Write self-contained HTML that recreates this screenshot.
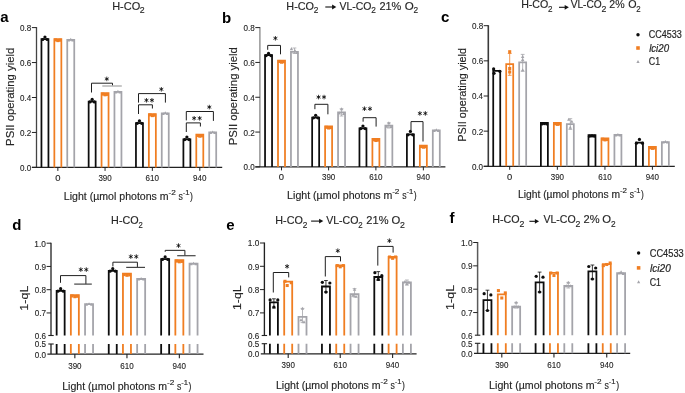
<!DOCTYPE html>
<html><head><meta charset="utf-8"><style>
html,body{margin:0;padding:0;background:#fff;}
svg{display:block;will-change:transform;font-family:"Liberation Sans", sans-serif;}
</style></head><body>
<svg width="685" height="393" viewBox="0 0 685 393">
<rect width="685" height="393" fill="#fff"/>
<line x1="36.50" y1="27.10" x2="36.50" y2="167.40" stroke="#444" stroke-width="1.3" />
<line x1="31.90" y1="27.60" x2="36.50" y2="27.60" stroke="#222222" stroke-width="1.0" />
<text x="20.08" y="31.05" font-size="8.6" fill="#262626" font-weight="normal" font-style="normal" textLength="11.27" lengthAdjust="spacingAndGlyphs" stroke="#262626" stroke-width="0.12" >0.8</text>
<line x1="31.90" y1="62.55" x2="36.50" y2="62.55" stroke="#222222" stroke-width="1.0" />
<text x="20.08" y="66.00" font-size="8.6" fill="#262626" font-weight="normal" font-style="normal" textLength="11.27" lengthAdjust="spacingAndGlyphs" stroke="#262626" stroke-width="0.12" >0.6</text>
<line x1="31.90" y1="97.50" x2="36.50" y2="97.50" stroke="#222222" stroke-width="1.0" />
<text x="20.09" y="100.95" font-size="8.6" fill="#262626" font-weight="normal" font-style="normal" textLength="11.15" lengthAdjust="spacingAndGlyphs" stroke="#262626" stroke-width="0.12" >0.4</text>
<line x1="31.90" y1="132.45" x2="36.50" y2="132.45" stroke="#222222" stroke-width="1.0" />
<text x="20.08" y="135.90" font-size="8.6" fill="#262626" font-weight="normal" font-style="normal" textLength="11.33" lengthAdjust="spacingAndGlyphs" stroke="#262626" stroke-width="0.12" >0.2</text>
<line x1="31.90" y1="167.40" x2="36.50" y2="167.40" stroke="#222222" stroke-width="1.0" />
<text x="20.08" y="170.85" font-size="8.6" fill="#262626" font-weight="normal" font-style="normal" textLength="11.23" lengthAdjust="spacingAndGlyphs" stroke="#262626" stroke-width="0.12" >0.0</text>
<line x1="31.90" y1="167.40" x2="222.20" y2="167.40" stroke="#222222" stroke-width="1.35" />
<line x1="57.85" y1="167.40" x2="57.85" y2="170.90" stroke="#222222" stroke-width="1.0" />
<text x="55.23" y="180.70" font-size="8.3" fill="#262626" font-weight="normal" font-style="normal" textLength="5.24" lengthAdjust="spacingAndGlyphs" stroke="#262626" stroke-width="0.12" >0</text>
<line x1="105.05" y1="167.40" x2="105.05" y2="170.90" stroke="#222222" stroke-width="1.0" />
<text x="98.40" y="180.70" font-size="8.3" fill="#262626" font-weight="normal" font-style="normal" textLength="13.32" lengthAdjust="spacingAndGlyphs" stroke="#262626" stroke-width="0.12" >390</text>
<line x1="152.35" y1="167.40" x2="152.35" y2="170.90" stroke="#222222" stroke-width="1.0" />
<text x="145.59" y="180.70" font-size="8.3" fill="#262626" font-weight="normal" font-style="normal" textLength="13.43" lengthAdjust="spacingAndGlyphs" stroke="#262626" stroke-width="0.12" >610</text>
<line x1="199.80" y1="167.40" x2="199.80" y2="170.90" stroke="#222222" stroke-width="1.0" />
<text x="193.07" y="180.70" font-size="8.3" fill="#262626" font-weight="normal" font-style="normal" textLength="13.39" lengthAdjust="spacingAndGlyphs" stroke="#262626" stroke-width="0.12" >940</text>
<path d="M41.45,167.40 V39.20 H48.45 V167.40" fill="none" stroke="#0d0d0d" stroke-width="1.75"/>
<circle cx="42.75" cy="39.50" r="1.62" fill="#0d0d0d"/>
<circle cx="47.15" cy="39.50" r="1.62" fill="#0d0d0d"/>
<circle cx="44.95" cy="37.00" r="1.62" fill="#0d0d0d"/>
<path d="M54.35,167.40 V39.00 H61.35 V167.40" fill="none" stroke="#F07E22" stroke-width="1.75"/>
<rect x="54.12" y="38.37" width="3.06" height="3.06" fill="#F07E22"/>
<rect x="58.52" y="38.67" width="3.06" height="3.06" fill="#F07E22"/>
<rect x="56.32" y="39.07" width="3.06" height="3.06" fill="#F07E22"/>
<path d="M67.25,167.40 V39.80 H74.25 V167.40" fill="none" stroke="#A4A4AA" stroke-width="1.75"/>
<path d="M68.75,38.68 L70.27,41.42 L67.23,41.42 Z" fill="#A4A4AA"/>
<path d="M72.75,38.68 L74.27,41.42 L71.23,41.42 Z" fill="#A4A4AA"/>
<path d="M70.75,37.78 L72.27,40.52 L69.23,40.52 Z" fill="#A4A4AA"/>
<path d="M88.65,167.40 V101.60 H95.65 V167.40" fill="none" stroke="#0d0d0d" stroke-width="1.75"/>
<circle cx="89.95" cy="101.90" r="1.62" fill="#0d0d0d"/>
<circle cx="94.35" cy="101.90" r="1.62" fill="#0d0d0d"/>
<circle cx="92.15" cy="99.40" r="1.62" fill="#0d0d0d"/>
<path d="M101.55,167.40 V93.20 H108.55 V167.40" fill="none" stroke="#F07E22" stroke-width="1.75"/>
<rect x="101.32" y="92.57" width="3.06" height="3.06" fill="#F07E22"/>
<rect x="105.72" y="92.87" width="3.06" height="3.06" fill="#F07E22"/>
<rect x="103.52" y="93.27" width="3.06" height="3.06" fill="#F07E22"/>
<path d="M114.45,167.40 V91.80 H121.45 V167.40" fill="none" stroke="#A4A4AA" stroke-width="1.75"/>
<path d="M115.95,90.68 L117.47,93.42 L114.43,93.42 Z" fill="#A4A4AA"/>
<path d="M119.95,90.68 L121.47,93.42 L118.43,93.42 Z" fill="#A4A4AA"/>
<path d="M117.95,89.78 L119.47,92.52 L116.43,92.52 Z" fill="#A4A4AA"/>
<path d="M135.95,167.40 V123.00 H142.95 V167.40" fill="none" stroke="#0d0d0d" stroke-width="1.75"/>
<circle cx="137.25" cy="123.30" r="1.62" fill="#0d0d0d"/>
<circle cx="141.65" cy="123.30" r="1.62" fill="#0d0d0d"/>
<circle cx="139.45" cy="120.80" r="1.62" fill="#0d0d0d"/>
<path d="M148.85,167.40 V114.00 H155.85 V167.40" fill="none" stroke="#F07E22" stroke-width="1.75"/>
<rect x="148.62" y="113.37" width="3.06" height="3.06" fill="#F07E22"/>
<rect x="153.02" y="113.67" width="3.06" height="3.06" fill="#F07E22"/>
<rect x="150.82" y="114.07" width="3.06" height="3.06" fill="#F07E22"/>
<path d="M161.75,167.40 V113.30 H168.75 V167.40" fill="none" stroke="#A4A4AA" stroke-width="1.75"/>
<path d="M163.25,112.18 L164.77,114.92 L161.73,114.92 Z" fill="#A4A4AA"/>
<path d="M167.25,112.18 L168.77,114.92 L165.73,114.92 Z" fill="#A4A4AA"/>
<path d="M165.25,111.28 L166.77,114.02 L163.73,114.02 Z" fill="#A4A4AA"/>
<path d="M183.40,167.40 V139.30 H190.40 V167.40" fill="none" stroke="#0d0d0d" stroke-width="1.75"/>
<circle cx="184.70" cy="139.60" r="1.62" fill="#0d0d0d"/>
<circle cx="189.10" cy="139.60" r="1.62" fill="#0d0d0d"/>
<circle cx="186.90" cy="137.10" r="1.62" fill="#0d0d0d"/>
<path d="M196.30,167.40 V134.60 H203.30 V167.40" fill="none" stroke="#F07E22" stroke-width="1.75"/>
<rect x="196.07" y="133.97" width="3.06" height="3.06" fill="#F07E22"/>
<rect x="200.47" y="134.27" width="3.06" height="3.06" fill="#F07E22"/>
<rect x="198.27" y="134.67" width="3.06" height="3.06" fill="#F07E22"/>
<path d="M209.20,167.40 V132.40 H216.20 V167.40" fill="none" stroke="#A4A4AA" stroke-width="1.75"/>
<path d="M210.70,131.28 L212.22,134.02 L209.18,134.02 Z" fill="#A4A4AA"/>
<path d="M214.70,131.28 L216.22,134.02 L213.18,134.02 Z" fill="#A4A4AA"/>
<path d="M212.70,130.38 L214.22,133.12 L211.18,133.12 Z" fill="#A4A4AA"/>
<text x="0.30" y="22.00" font-size="15" font-weight="bold" fill="#000">a</text>
<text x="112.20" y="9.90" font-size="11.0" fill="#262626" font-weight="normal" font-style="normal" textLength="28.03" lengthAdjust="spacingAndGlyphs" stroke="#262626" stroke-width="0.15" >H-CO</text>
<text x="139.86" y="13.20" font-size="9.2" fill="#262626" font-weight="normal" font-style="normal" textLength="4.88" lengthAdjust="spacingAndGlyphs" stroke="#262626" stroke-width="0.15" >2</text>
<text x="63.83" y="199.80" font-size="10.4" fill="#262626" font-weight="normal" font-style="normal" textLength="104.77" lengthAdjust="spacingAndGlyphs" stroke="#262626" stroke-width="0.15" >Light (µmol photons m</text>
<text x="168.44" y="194.60" font-size="7.0" fill="#262626" font-weight="normal" font-style="normal" textLength="7.27" lengthAdjust="spacingAndGlyphs" stroke="#262626" stroke-width="0.15" >-2</text>
<text x="178.46" y="199.80" font-size="10.4" fill="#262626" font-weight="normal" font-style="normal" textLength="4.36" lengthAdjust="spacingAndGlyphs" stroke="#262626" stroke-width="0.15" >s</text>
<text x="182.76" y="194.60" font-size="7.0" fill="#262626" font-weight="normal" font-style="normal" textLength="6.81" lengthAdjust="spacingAndGlyphs" stroke="#262626" stroke-width="0.15" >-1</text>
<text x="190.05" y="199.80" font-size="10.4" fill="#262626" font-weight="normal" font-style="normal" textLength="2.89" lengthAdjust="spacingAndGlyphs" stroke="#262626" stroke-width="0.15" >)</text>
<text transform="translate(13.60,0) rotate(-90)" x="-145.93" y="0.00" font-size="11.2" fill="#262626" font-weight="normal" font-style="normal" textLength="98.25" lengthAdjust="spacingAndGlyphs" stroke="#262626" stroke-width="0.15" >PSII operating yield</text>
<path d="M91.50,92.50 V83.20 H112.50 V85.40" stroke="#1f1f1f" stroke-width="1.0" fill="none"/>
<line x1="102.30" y1="86.00" x2="121.80" y2="86.00" stroke="#999" stroke-width="1.1" />
<path d="M106.80,76.60 L106.80,81.20 M104.81,77.75 L108.79,80.05 M104.81,80.05 L108.79,77.75 " stroke="#1a1a1a" stroke-width="0.85" fill="none"/>
<circle cx="106.80" cy="78.90" r="0.75" fill="#111"/>
<path d="M138.50,114.00 V104.80 H152.40 V108.50" stroke="#1f1f1f" stroke-width="1.0" fill="none"/>
<path d="M146.45,98.00 L146.45,102.60 M144.46,99.15 L148.44,101.45 M144.46,101.45 L148.44,99.15 " stroke="#1a1a1a" stroke-width="0.85" fill="none"/>
<circle cx="146.45" cy="100.30" r="0.75" fill="#111"/>
<path d="M151.95,98.00 L151.95,102.60 M149.96,99.15 L153.94,101.45 M149.96,101.45 L153.94,99.15 " stroke="#1a1a1a" stroke-width="0.85" fill="none"/>
<circle cx="151.95" cy="100.30" r="0.75" fill="#111"/>
<path d="M138.50,102.60 V93.60 H165.40 V102.60" stroke="#1f1f1f" stroke-width="1.0" fill="none"/>
<path d="M161.35,87.00 L161.35,91.60 M159.36,88.15 L163.34,90.45 M159.36,90.45 L163.34,88.15 " stroke="#1a1a1a" stroke-width="0.85" fill="none"/>
<circle cx="161.35" cy="89.30" r="0.75" fill="#111"/>
<path d="M186.30,132.00 V122.90 H200.40 V126.50" stroke="#1f1f1f" stroke-width="1.0" fill="none"/>
<path d="M194.15,116.00 L194.15,120.60 M192.16,117.15 L196.14,119.45 M192.16,119.45 L196.14,117.15 " stroke="#1a1a1a" stroke-width="0.85" fill="none"/>
<circle cx="194.15" cy="118.30" r="0.75" fill="#111"/>
<path d="M199.65,116.00 L199.65,120.60 M197.66,117.15 L201.64,119.45 M197.66,119.45 L201.64,117.15 " stroke="#1a1a1a" stroke-width="0.85" fill="none"/>
<circle cx="199.65" cy="118.30" r="0.75" fill="#111"/>
<path d="M186.30,120.40 V111.50 H213.40 V120.90" stroke="#1f1f1f" stroke-width="1.0" fill="none"/>
<path d="M209.30,104.80 L209.30,109.40 M207.31,105.95 L211.29,108.25 M207.31,108.25 L211.29,105.95 " stroke="#1a1a1a" stroke-width="0.85" fill="none"/>
<circle cx="209.30" cy="107.10" r="0.75" fill="#111"/>
<line x1="259.90" y1="27.10" x2="259.90" y2="166.90" stroke="#8a8a8a" stroke-width="1.35" />
<line x1="255.30" y1="27.60" x2="259.90" y2="27.60" stroke="#222222" stroke-width="1.0" />
<text x="243.48" y="31.05" font-size="8.6" fill="#262626" font-weight="normal" font-style="normal" textLength="11.27" lengthAdjust="spacingAndGlyphs" stroke="#262626" stroke-width="0.12" >0.8</text>
<line x1="255.30" y1="62.43" x2="259.90" y2="62.43" stroke="#222222" stroke-width="1.0" />
<text x="243.48" y="65.88" font-size="8.6" fill="#262626" font-weight="normal" font-style="normal" textLength="11.27" lengthAdjust="spacingAndGlyphs" stroke="#262626" stroke-width="0.12" >0.6</text>
<line x1="255.30" y1="97.25" x2="259.90" y2="97.25" stroke="#222222" stroke-width="1.0" />
<text x="243.49" y="100.70" font-size="8.6" fill="#262626" font-weight="normal" font-style="normal" textLength="11.15" lengthAdjust="spacingAndGlyphs" stroke="#262626" stroke-width="0.12" >0.4</text>
<line x1="255.30" y1="132.07" x2="259.90" y2="132.07" stroke="#222222" stroke-width="1.0" />
<text x="243.48" y="135.52" font-size="8.6" fill="#262626" font-weight="normal" font-style="normal" textLength="11.33" lengthAdjust="spacingAndGlyphs" stroke="#262626" stroke-width="0.12" >0.2</text>
<line x1="255.30" y1="166.90" x2="259.90" y2="166.90" stroke="#222222" stroke-width="1.0" />
<text x="243.48" y="170.35" font-size="8.6" fill="#262626" font-weight="normal" font-style="normal" textLength="11.23" lengthAdjust="spacingAndGlyphs" stroke="#262626" stroke-width="0.12" >0.0</text>
<line x1="255.30" y1="166.90" x2="445.40" y2="166.90" stroke="#222222" stroke-width="1.35" />
<line x1="281.50" y1="166.90" x2="281.50" y2="170.40" stroke="#222222" stroke-width="1.0" />
<text x="278.88" y="180.20" font-size="8.3" fill="#262626" font-weight="normal" font-style="normal" textLength="5.24" lengthAdjust="spacingAndGlyphs" stroke="#262626" stroke-width="0.12" >0</text>
<line x1="328.60" y1="166.90" x2="328.60" y2="170.40" stroke="#222222" stroke-width="1.0" />
<text x="321.95" y="180.20" font-size="8.3" fill="#262626" font-weight="normal" font-style="normal" textLength="13.32" lengthAdjust="spacingAndGlyphs" stroke="#262626" stroke-width="0.12" >390</text>
<line x1="375.90" y1="166.90" x2="375.90" y2="170.40" stroke="#222222" stroke-width="1.0" />
<text x="369.14" y="180.20" font-size="8.3" fill="#262626" font-weight="normal" font-style="normal" textLength="13.43" lengthAdjust="spacingAndGlyphs" stroke="#262626" stroke-width="0.12" >610</text>
<line x1="423.35" y1="166.90" x2="423.35" y2="170.40" stroke="#222222" stroke-width="1.0" />
<text x="416.62" y="180.20" font-size="8.3" fill="#262626" font-weight="normal" font-style="normal" textLength="13.39" lengthAdjust="spacingAndGlyphs" stroke="#262626" stroke-width="0.12" >940</text>
<path d="M265.05,166.90 V55.00 H272.05 V166.90" fill="none" stroke="#0d0d0d" stroke-width="1.75"/>
<circle cx="266.15" cy="55.60" r="1.62" fill="#0d0d0d"/>
<circle cx="270.95" cy="55.60" r="1.62" fill="#0d0d0d"/>
<circle cx="268.55" cy="53.40" r="1.62" fill="#0d0d0d"/>
<path d="M278.00,166.90 V60.60 H285.00 V166.90" fill="none" stroke="#F07E22" stroke-width="1.75"/>
<rect x="277.77" y="59.97" width="3.06" height="3.06" fill="#F07E22"/>
<rect x="282.17" y="60.27" width="3.06" height="3.06" fill="#F07E22"/>
<rect x="279.97" y="60.67" width="3.06" height="3.06" fill="#F07E22"/>
<path d="M290.95,166.90 V51.80 H297.95 V166.90" fill="none" stroke="#A4A4AA" stroke-width="1.75"/>
<path d="M294.45,48.00 V53.50 M292.55,48.00 H296.35 M292.55,53.50 H296.35" stroke="#A4A4AA" stroke-width="0.8" fill="none"/>
<path d="M291.45,47.09 L293.16,50.17 L289.74,50.17 Z" fill="#A4A4AA"/>
<path d="M294.95,48.89 L296.66,51.97 L293.24,51.97 Z" fill="#A4A4AA"/>
<path d="M297.05,50.89 L298.76,53.97 L295.34,53.97 Z" fill="#A4A4AA"/>
<path d="M312.15,166.90 V117.50 H319.15 V166.90" fill="none" stroke="#0d0d0d" stroke-width="1.75"/>
<circle cx="313.45" cy="117.80" r="1.62" fill="#0d0d0d"/>
<circle cx="317.85" cy="117.80" r="1.62" fill="#0d0d0d"/>
<circle cx="315.65" cy="115.30" r="1.62" fill="#0d0d0d"/>
<path d="M325.10,166.90 V126.40 H332.10 V166.90" fill="none" stroke="#F07E22" stroke-width="1.75"/>
<rect x="324.87" y="125.77" width="3.06" height="3.06" fill="#F07E22"/>
<rect x="329.27" y="126.07" width="3.06" height="3.06" fill="#F07E22"/>
<rect x="327.07" y="126.47" width="3.06" height="3.06" fill="#F07E22"/>
<path d="M338.05,166.90 V112.40 H345.05 V166.90" fill="none" stroke="#A4A4AA" stroke-width="1.75"/>
<path d="M341.55,108.80 V116.00 M339.65,108.80 H343.45 M339.65,116.00 H343.45" stroke="#A4A4AA" stroke-width="0.8" fill="none"/>
<path d="M341.55,107.29 L343.26,110.37 L339.84,110.37 Z" fill="#A4A4AA"/>
<path d="M339.35,111.49 L341.06,114.57 L337.64,114.57 Z" fill="#A4A4AA"/>
<path d="M343.75,111.89 L345.46,114.97 L342.04,114.97 Z" fill="#A4A4AA"/>
<path d="M359.45,166.90 V128.30 H366.45 V166.90" fill="none" stroke="#0d0d0d" stroke-width="1.75"/>
<circle cx="360.75" cy="128.60" r="1.62" fill="#0d0d0d"/>
<circle cx="365.15" cy="128.60" r="1.62" fill="#0d0d0d"/>
<circle cx="362.95" cy="126.10" r="1.62" fill="#0d0d0d"/>
<path d="M372.40,166.90 V138.90 H379.40 V166.90" fill="none" stroke="#F07E22" stroke-width="1.75"/>
<rect x="372.17" y="138.27" width="3.06" height="3.06" fill="#F07E22"/>
<rect x="376.57" y="138.57" width="3.06" height="3.06" fill="#F07E22"/>
<rect x="374.37" y="138.97" width="3.06" height="3.06" fill="#F07E22"/>
<path d="M385.35,166.90 V125.50 H392.35 V166.90" fill="none" stroke="#A4A4AA" stroke-width="1.75"/>
<path d="M388.85,122.80 V128.00 M386.95,122.80 H390.75 M386.95,128.00 H390.75" stroke="#A4A4AA" stroke-width="0.8" fill="none"/>
<path d="M388.85,121.19 L390.56,124.27 L387.14,124.27 Z" fill="#A4A4AA"/>
<path d="M386.65,124.69 L388.36,127.77 L384.94,127.77 Z" fill="#A4A4AA"/>
<path d="M391.05,124.89 L392.76,127.97 L389.34,127.97 Z" fill="#A4A4AA"/>
<path d="M406.90,166.90 V134.40 H413.90 V166.90" fill="none" stroke="#0d0d0d" stroke-width="1.75"/>
<circle cx="408.00" cy="134.80" r="1.62" fill="#0d0d0d"/>
<circle cx="412.80" cy="134.80" r="1.62" fill="#0d0d0d"/>
<circle cx="410.40" cy="131.40" r="1.62" fill="#0d0d0d"/>
<path d="M419.85,166.90 V145.60 H426.85 V166.90" fill="none" stroke="#F07E22" stroke-width="1.75"/>
<rect x="419.62" y="144.97" width="3.06" height="3.06" fill="#F07E22"/>
<rect x="424.02" y="145.27" width="3.06" height="3.06" fill="#F07E22"/>
<rect x="421.82" y="145.67" width="3.06" height="3.06" fill="#F07E22"/>
<path d="M432.80,166.90 V130.30 H439.80 V166.90" fill="none" stroke="#A4A4AA" stroke-width="1.75"/>
<path d="M434.30,129.18 L435.82,131.92 L432.78,131.92 Z" fill="#A4A4AA"/>
<path d="M438.30,129.18 L439.82,131.92 L436.78,131.92 Z" fill="#A4A4AA"/>
<path d="M436.30,128.28 L437.82,131.02 L434.78,131.02 Z" fill="#A4A4AA"/>
<text x="222.00" y="22.60" font-size="15" font-weight="bold" fill="#000">b</text>
<text x="286.31" y="9.90" font-size="11.0" fill="#262626" font-weight="normal" font-style="normal" textLength="27.71" lengthAdjust="spacingAndGlyphs" stroke="#262626" stroke-width="0.15" >H-CO</text>
<text x="313.68" y="13.20" font-size="9.2" fill="#262626" font-weight="normal" font-style="normal" textLength="4.63" lengthAdjust="spacingAndGlyphs" stroke="#262626" stroke-width="0.15" >2</text>
<text x="339.45" y="9.90" font-size="11.0" fill="#262626" font-weight="normal" font-style="normal" textLength="32.06" lengthAdjust="spacingAndGlyphs" stroke="#262626" stroke-width="0.15" >VL-CO</text>
<text x="371.18" y="13.20" font-size="9.2" fill="#262626" font-weight="normal" font-style="normal" textLength="4.63" lengthAdjust="spacingAndGlyphs" stroke="#262626" stroke-width="0.15" >2</text>
<text x="379.45" y="9.90" font-size="11.0" fill="#262626" font-weight="normal" font-style="normal" textLength="21.94" lengthAdjust="spacingAndGlyphs" stroke="#262626" stroke-width="0.15" >21%</text>
<text x="404.86" y="9.90" font-size="11.0" fill="#262626" font-weight="normal" font-style="normal" textLength="9.00" lengthAdjust="spacingAndGlyphs" stroke="#262626" stroke-width="0.15" >O</text>
<text x="413.48" y="13.20" font-size="9.2" fill="#262626" font-weight="normal" font-style="normal" textLength="4.63" lengthAdjust="spacingAndGlyphs" stroke="#262626" stroke-width="0.15" >2</text>
<path d="M325.30,7.00 H333.30" stroke="#111" stroke-width="1.1"/>
<path d="M336.30,7.00 L332.10,4.60 L332.10,9.40 Z" fill="#111"/>
<text x="287.13" y="199.30" font-size="10.4" fill="#262626" font-weight="normal" font-style="normal" textLength="105.18" lengthAdjust="spacingAndGlyphs" stroke="#262626" stroke-width="0.15" >Light (µmol photons m</text>
<text x="392.15" y="194.10" font-size="7.0" fill="#262626" font-weight="normal" font-style="normal" textLength="7.30" lengthAdjust="spacingAndGlyphs" stroke="#262626" stroke-width="0.15" >-2</text>
<text x="402.20" y="199.30" font-size="10.4" fill="#262626" font-weight="normal" font-style="normal" textLength="4.37" lengthAdjust="spacingAndGlyphs" stroke="#262626" stroke-width="0.15" >s</text>
<text x="406.53" y="194.10" font-size="7.0" fill="#262626" font-weight="normal" font-style="normal" textLength="6.84" lengthAdjust="spacingAndGlyphs" stroke="#262626" stroke-width="0.15" >-1</text>
<text x="413.84" y="199.30" font-size="10.4" fill="#262626" font-weight="normal" font-style="normal" textLength="2.90" lengthAdjust="spacingAndGlyphs" stroke="#262626" stroke-width="0.15" >)</text>
<text transform="translate(236.90,0) rotate(-90)" x="-145.23" y="0.00" font-size="11.2" fill="#262626" font-weight="normal" font-style="normal" textLength="98.05" lengthAdjust="spacingAndGlyphs" stroke="#262626" stroke-width="0.15" >PSII operating yield</text>
<path d="M267.70,49.80 V45.40 H280.50 V54.30" stroke="#1f1f1f" stroke-width="1.0" fill="none"/>
<path d="M275.40,36.00 L275.40,40.60 M273.41,37.15 L277.39,39.45 M273.41,39.45 L277.39,37.15 " stroke="#1a1a1a" stroke-width="0.85" fill="none"/>
<circle cx="275.40" cy="38.30" r="0.75" fill="#111"/>
<path d="M314.90,109.20 V104.30 H327.90 V114.30" stroke="#1f1f1f" stroke-width="1.0" fill="none"/>
<path d="M318.55,94.80 L318.55,99.40 M316.56,95.95 L320.54,98.25 M316.56,98.25 L320.54,95.95 " stroke="#1a1a1a" stroke-width="0.85" fill="none"/>
<circle cx="318.55" cy="97.10" r="0.75" fill="#111"/>
<path d="M324.05,94.80 L324.05,99.40 M322.06,95.95 L326.04,98.25 M322.06,98.25 L326.04,95.95 " stroke="#1a1a1a" stroke-width="0.85" fill="none"/>
<circle cx="324.05" cy="97.10" r="0.75" fill="#111"/>
<path d="M363.10,121.70 V117.70 H376.10 V126.60" stroke="#1f1f1f" stroke-width="1.0" fill="none"/>
<path d="M364.45,106.40 L364.45,111.00 M362.46,107.55 L366.44,109.85 M362.46,109.85 L366.44,107.55 " stroke="#1a1a1a" stroke-width="0.85" fill="none"/>
<circle cx="364.45" cy="108.70" r="0.75" fill="#111"/>
<path d="M369.95,106.40 L369.95,111.00 M367.96,107.55 L371.94,109.85 M367.96,109.85 L371.94,107.55 " stroke="#1a1a1a" stroke-width="0.85" fill="none"/>
<circle cx="369.95" cy="108.70" r="0.75" fill="#111"/>
<path d="M411.00,130.00 V121.60 H423.00 V141.50" stroke="#1f1f1f" stroke-width="1.0" fill="none"/>
<path d="M419.85,111.10 L419.85,115.70 M417.86,112.25 L421.84,114.55 M417.86,114.55 L421.84,112.25 " stroke="#1a1a1a" stroke-width="0.85" fill="none"/>
<circle cx="419.85" cy="113.40" r="0.75" fill="#111"/>
<path d="M425.35,111.10 L425.35,115.70 M423.36,112.25 L427.34,114.55 M423.36,114.55 L427.34,112.25 " stroke="#1a1a1a" stroke-width="0.85" fill="none"/>
<circle cx="425.35" cy="113.40" r="0.75" fill="#111"/>
<line x1="488.30" y1="25.20" x2="488.30" y2="166.30" stroke="#3a3a3a" stroke-width="1.6" />
<line x1="483.70" y1="25.70" x2="488.30" y2="25.70" stroke="#222222" stroke-width="1.0" />
<text x="471.88" y="29.15" font-size="8.6" fill="#262626" font-weight="normal" font-style="normal" textLength="11.27" lengthAdjust="spacingAndGlyphs" stroke="#262626" stroke-width="0.12" >0.8</text>
<line x1="483.70" y1="60.85" x2="488.30" y2="60.85" stroke="#222222" stroke-width="1.0" />
<text x="471.88" y="64.30" font-size="8.6" fill="#262626" font-weight="normal" font-style="normal" textLength="11.27" lengthAdjust="spacingAndGlyphs" stroke="#262626" stroke-width="0.12" >0.6</text>
<line x1="483.70" y1="96.00" x2="488.30" y2="96.00" stroke="#222222" stroke-width="1.0" />
<text x="471.89" y="99.45" font-size="8.6" fill="#262626" font-weight="normal" font-style="normal" textLength="11.15" lengthAdjust="spacingAndGlyphs" stroke="#262626" stroke-width="0.12" >0.4</text>
<line x1="483.70" y1="131.15" x2="488.30" y2="131.15" stroke="#222222" stroke-width="1.0" />
<text x="471.88" y="134.60" font-size="8.6" fill="#262626" font-weight="normal" font-style="normal" textLength="11.33" lengthAdjust="spacingAndGlyphs" stroke="#262626" stroke-width="0.12" >0.2</text>
<line x1="483.70" y1="166.30" x2="488.30" y2="166.30" stroke="#222222" stroke-width="1.0" />
<text x="471.88" y="169.75" font-size="8.6" fill="#262626" font-weight="normal" font-style="normal" textLength="11.23" lengthAdjust="spacingAndGlyphs" stroke="#262626" stroke-width="0.12" >0.0</text>
<line x1="483.70" y1="166.30" x2="674.80" y2="166.30" stroke="#222222" stroke-width="1.35" />
<line x1="509.70" y1="166.30" x2="509.70" y2="169.80" stroke="#222222" stroke-width="1.0" />
<text x="507.08" y="179.60" font-size="8.3" fill="#262626" font-weight="normal" font-style="normal" textLength="5.24" lengthAdjust="spacingAndGlyphs" stroke="#262626" stroke-width="0.12" >0</text>
<line x1="557.35" y1="166.30" x2="557.35" y2="169.80" stroke="#222222" stroke-width="1.0" />
<text x="550.70" y="179.60" font-size="8.3" fill="#262626" font-weight="normal" font-style="normal" textLength="13.32" lengthAdjust="spacingAndGlyphs" stroke="#262626" stroke-width="0.12" >390</text>
<line x1="604.95" y1="166.30" x2="604.95" y2="169.80" stroke="#222222" stroke-width="1.0" />
<text x="598.19" y="179.60" font-size="8.3" fill="#262626" font-weight="normal" font-style="normal" textLength="13.43" lengthAdjust="spacingAndGlyphs" stroke="#262626" stroke-width="0.12" >610</text>
<line x1="652.40" y1="166.30" x2="652.40" y2="169.80" stroke="#222222" stroke-width="1.0" />
<text x="645.67" y="179.60" font-size="8.3" fill="#262626" font-weight="normal" font-style="normal" textLength="13.39" lengthAdjust="spacingAndGlyphs" stroke="#262626" stroke-width="0.12" >940</text>
<path d="M493.23,166.30 V70.80 H500.23 V166.30" fill="none" stroke="#0d0d0d" stroke-width="1.75"/>
<circle cx="493.63" cy="68.90" r="1.62" fill="#0d0d0d"/>
<circle cx="494.03" cy="73.30" r="1.62" fill="#0d0d0d"/>
<circle cx="499.83" cy="71.30" r="1.62" fill="#0d0d0d"/>
<path d="M506.20,166.30 V64.20 H513.20 V166.30" fill="none" stroke="#F07E22" stroke-width="1.75"/>
<path d="M509.70,53.50 V75.30 M507.80,53.50 H511.60 M507.80,75.30 H511.60" stroke="#F07E22" stroke-width="0.8" fill="none"/>
<rect x="508.17" y="50.17" width="3.06" height="3.06" fill="#F07E22"/>
<rect x="508.17" y="66.97" width="3.06" height="3.06" fill="#F07E22"/>
<rect x="508.17" y="70.47" width="3.06" height="3.06" fill="#F07E22"/>
<path d="M519.17,166.30 V62.40 H526.17 V166.30" fill="none" stroke="#A4A4AA" stroke-width="1.75"/>
<path d="M522.67,54.40 V71.30 M520.77,54.40 H524.57 M520.77,71.30 H524.57" stroke="#A4A4AA" stroke-width="0.8" fill="none"/>
<path d="M522.67,54.89 L524.38,57.97 L520.96,57.97 Z" fill="#A4A4AA"/>
<path d="M522.67,57.99 L524.38,61.07 L520.96,61.07 Z" fill="#A4A4AA"/>
<path d="M522.67,68.19 L524.38,71.27 L520.96,71.27 Z" fill="#A4A4AA"/>
<path d="M540.88,166.30 V122.80 H547.88 V166.30" fill="none" stroke="#0d0d0d" stroke-width="1.75"/>
<circle cx="541.98" cy="123.90" r="1.62" fill="#0d0d0d"/>
<circle cx="544.38" cy="123.60" r="1.62" fill="#0d0d0d"/>
<circle cx="546.78" cy="123.90" r="1.62" fill="#0d0d0d"/>
<path d="M553.85,166.30 V122.80 H560.85 V166.30" fill="none" stroke="#F07E22" stroke-width="1.75"/>
<rect x="553.62" y="122.17" width="3.06" height="3.06" fill="#F07E22"/>
<rect x="558.02" y="122.47" width="3.06" height="3.06" fill="#F07E22"/>
<rect x="555.82" y="122.87" width="3.06" height="3.06" fill="#F07E22"/>
<path d="M566.82,166.30 V124.00 H573.82 V166.30" fill="none" stroke="#A4A4AA" stroke-width="1.75"/>
<path d="M570.32,118.70 V129.40 M568.42,118.70 H572.22 M568.42,129.40 H572.22" stroke="#A4A4AA" stroke-width="0.8" fill="none"/>
<path d="M568.82,117.79 L570.53,120.87 L567.11,120.87 Z" fill="#A4A4AA"/>
<path d="M571.82,119.79 L573.53,122.87 L570.11,122.87 Z" fill="#A4A4AA"/>
<path d="M570.32,125.79 L572.03,128.87 L568.61,128.87 Z" fill="#A4A4AA"/>
<path d="M588.48,166.30 V135.10 H595.48 V166.30" fill="none" stroke="#0d0d0d" stroke-width="1.75"/>
<circle cx="589.58" cy="136.20" r="1.62" fill="#0d0d0d"/>
<circle cx="591.98" cy="135.90" r="1.62" fill="#0d0d0d"/>
<circle cx="594.38" cy="136.20" r="1.62" fill="#0d0d0d"/>
<path d="M601.45,166.30 V138.30 H608.45 V166.30" fill="none" stroke="#F07E22" stroke-width="1.75"/>
<rect x="601.22" y="137.67" width="3.06" height="3.06" fill="#F07E22"/>
<rect x="605.62" y="137.97" width="3.06" height="3.06" fill="#F07E22"/>
<rect x="603.42" y="138.37" width="3.06" height="3.06" fill="#F07E22"/>
<path d="M614.42,166.30 V134.90 H621.42 V166.30" fill="none" stroke="#A4A4AA" stroke-width="1.75"/>
<path d="M615.92,133.78 L617.44,136.52 L614.40,136.52 Z" fill="#A4A4AA"/>
<path d="M619.92,133.78 L621.44,136.52 L618.40,136.52 Z" fill="#A4A4AA"/>
<path d="M617.92,132.88 L619.44,135.62 L616.40,135.62 Z" fill="#A4A4AA"/>
<path d="M635.93,166.30 V142.70 H642.93 V166.30" fill="none" stroke="#0d0d0d" stroke-width="1.75"/>
<circle cx="639.43" cy="139.40" r="1.62" fill="#0d0d0d"/>
<circle cx="636.43" cy="143.20" r="1.62" fill="#0d0d0d"/>
<circle cx="642.43" cy="143.20" r="1.62" fill="#0d0d0d"/>
<path d="M648.90,166.30 V146.80 H655.90 V166.30" fill="none" stroke="#F07E22" stroke-width="1.75"/>
<rect x="648.67" y="146.17" width="3.06" height="3.06" fill="#F07E22"/>
<rect x="653.07" y="146.47" width="3.06" height="3.06" fill="#F07E22"/>
<rect x="650.87" y="146.87" width="3.06" height="3.06" fill="#F07E22"/>
<path d="M661.87,166.30 V142.00 H668.87 V166.30" fill="none" stroke="#A4A4AA" stroke-width="1.75"/>
<path d="M663.37,140.88 L664.89,143.62 L661.85,143.62 Z" fill="#A4A4AA"/>
<path d="M667.37,140.88 L668.89,143.62 L665.85,143.62 Z" fill="#A4A4AA"/>
<path d="M665.37,139.98 L666.89,142.72 L663.85,142.72 Z" fill="#A4A4AA"/>
<text x="441.00" y="22.00" font-size="15" font-weight="bold" fill="#000">c</text>
<text x="521.13" y="8.30" font-size="11.0" fill="#262626" font-weight="normal" font-style="normal" textLength="27.19" lengthAdjust="spacingAndGlyphs" stroke="#262626" stroke-width="0.15" >H-CO</text>
<text x="547.89" y="11.60" font-size="9.2" fill="#262626" font-weight="normal" font-style="normal" textLength="4.51" lengthAdjust="spacingAndGlyphs" stroke="#262626" stroke-width="0.15" >2</text>
<text x="570.65" y="8.30" font-size="11.0" fill="#262626" font-weight="normal" font-style="normal" textLength="31.14" lengthAdjust="spacingAndGlyphs" stroke="#262626" stroke-width="0.15" >VL-CO</text>
<text x="601.56" y="11.60" font-size="9.2" fill="#262626" font-weight="normal" font-style="normal" textLength="4.88" lengthAdjust="spacingAndGlyphs" stroke="#262626" stroke-width="0.15" >2</text>
<text x="609.37" y="8.30" font-size="11.0" fill="#262626" font-weight="normal" font-style="normal" textLength="15.30" lengthAdjust="spacingAndGlyphs" stroke="#262626" stroke-width="0.15" >2%</text>
<text x="628.20" y="8.30" font-size="11.0" fill="#262626" font-weight="normal" font-style="normal" textLength="8.31" lengthAdjust="spacingAndGlyphs" stroke="#262626" stroke-width="0.15" >O</text>
<text x="636.31" y="11.60" font-size="9.2" fill="#262626" font-weight="normal" font-style="normal" textLength="4.39" lengthAdjust="spacingAndGlyphs" stroke="#262626" stroke-width="0.15" >2</text>
<path d="M559.00,7.30 H565.90" stroke="#111" stroke-width="1.1"/>
<path d="M568.90,7.30 L564.70,4.90 L564.70,9.70 Z" fill="#111"/>
<text x="517.96" y="198.10" font-size="10.4" fill="#262626" font-weight="normal" font-style="normal" textLength="102.14" lengthAdjust="spacingAndGlyphs" stroke="#262626" stroke-width="0.15" >Light (µmol photons m</text>
<text x="619.94" y="192.90" font-size="7.0" fill="#262626" font-weight="normal" font-style="normal" textLength="7.09" lengthAdjust="spacingAndGlyphs" stroke="#262626" stroke-width="0.15" >-2</text>
<text x="629.71" y="198.10" font-size="10.4" fill="#262626" font-weight="normal" font-style="normal" textLength="4.25" lengthAdjust="spacingAndGlyphs" stroke="#262626" stroke-width="0.15" >s</text>
<text x="633.90" y="192.90" font-size="7.0" fill="#262626" font-weight="normal" font-style="normal" textLength="6.64" lengthAdjust="spacingAndGlyphs" stroke="#262626" stroke-width="0.15" >-1</text>
<text x="641.01" y="198.10" font-size="10.4" fill="#262626" font-weight="normal" font-style="normal" textLength="2.82" lengthAdjust="spacingAndGlyphs" stroke="#262626" stroke-width="0.15" >)</text>
<text transform="translate(465.90,0) rotate(-90)" x="-141.69" y="0.00" font-size="10.9" fill="#262626" font-weight="normal" font-style="normal" textLength="93.68" lengthAdjust="spacingAndGlyphs" stroke="#262626" stroke-width="0.15" >PSII operating yield</text>
<circle cx="638.00" cy="34.70" r="1.71" fill="#0d0d0d"/>
<rect x="636.22" y="46.22" width="3.57" height="3.57" fill="#F07E22"/>
<path d="M638.00,60.09 L639.62,62.99 L636.38,62.99 Z" fill="#A4A4AA"/>
<text x="648.84" y="38.10" font-size="10.0" fill="#262626" font-weight="normal" font-style="normal" textLength="33.06" lengthAdjust="spacingAndGlyphs" stroke="#262626" stroke-width="0.2" >CC4533</text>
<text x="649.14" y="51.50" font-size="10.0" fill="#262626" font-weight="normal" font-style="italic" textLength="19.93" lengthAdjust="spacingAndGlyphs" stroke="#262626" stroke-width="0.2" >lci20</text>
<text x="648.85" y="64.80" font-size="10.0" fill="#262626" font-weight="normal" font-style="normal" textLength="11.29" lengthAdjust="spacingAndGlyphs" stroke="#262626" stroke-width="0.2" >C1</text>
<line x1="51.00" y1="242.70" x2="51.00" y2="335.50" stroke="#4a4a4a" stroke-width="1.6" />
<line x1="51.00" y1="344.00" x2="51.00" y2="354.10" stroke="#4a4a4a" stroke-width="1.6" />
<line x1="46.60" y1="243.20" x2="51.00" y2="243.20" stroke="#222222" stroke-width="1.0" />
<text x="34.37" y="246.65" font-size="8.6" fill="#262626" font-weight="normal" font-style="normal" textLength="11.56" lengthAdjust="spacingAndGlyphs" stroke="#262626" stroke-width="0.12" >1.0</text>
<line x1="46.60" y1="266.45" x2="51.00" y2="266.45" stroke="#222222" stroke-width="1.0" />
<text x="34.68" y="269.90" font-size="8.6" fill="#262626" font-weight="normal" font-style="normal" textLength="11.30" lengthAdjust="spacingAndGlyphs" stroke="#262626" stroke-width="0.12" >0.9</text>
<line x1="46.60" y1="289.70" x2="51.00" y2="289.70" stroke="#222222" stroke-width="1.0" />
<text x="34.68" y="293.15" font-size="8.6" fill="#262626" font-weight="normal" font-style="normal" textLength="11.27" lengthAdjust="spacingAndGlyphs" stroke="#262626" stroke-width="0.12" >0.8</text>
<line x1="46.60" y1="312.95" x2="51.00" y2="312.95" stroke="#222222" stroke-width="1.0" />
<text x="34.68" y="316.40" font-size="8.6" fill="#262626" font-weight="normal" font-style="normal" textLength="11.33" lengthAdjust="spacingAndGlyphs" stroke="#262626" stroke-width="0.12" >0.7</text>
<text x="34.68" y="339.35" font-size="8.6" fill="#262626" font-weight="normal" font-style="normal" textLength="11.27" lengthAdjust="spacingAndGlyphs" stroke="#262626" stroke-width="0.12" >0.6</text>
<line x1="48.30" y1="335.50" x2="53.70" y2="335.50" stroke="#222222" stroke-width="1.1" />
<line x1="48.30" y1="344.00" x2="53.70" y2="344.00" stroke="#222222" stroke-width="1.1" />
<text x="34.68" y="347.45" font-size="8.6" fill="#262626" font-weight="normal" font-style="normal" textLength="11.26" lengthAdjust="spacingAndGlyphs" stroke="#262626" stroke-width="0.12" >0.5</text>
<text x="34.68" y="357.55" font-size="8.6" fill="#262626" font-weight="normal" font-style="normal" textLength="11.23" lengthAdjust="spacingAndGlyphs" stroke="#262626" stroke-width="0.12" >0.0</text>
<line x1="47.40" y1="354.10" x2="203.50" y2="354.10" stroke="#222222" stroke-width="1.35" />
<line x1="74.85" y1="354.10" x2="74.85" y2="358.30" stroke="#222222" stroke-width="1.1" />
<text x="68.20" y="368.70" font-size="8.3" fill="#262626" font-weight="normal" font-style="normal" textLength="13.32" lengthAdjust="spacingAndGlyphs" stroke="#262626" stroke-width="0.12" >390</text>
<line x1="126.95" y1="354.10" x2="126.95" y2="358.30" stroke="#222222" stroke-width="1.1" />
<text x="120.19" y="368.70" font-size="8.3" fill="#262626" font-weight="normal" font-style="normal" textLength="13.43" lengthAdjust="spacingAndGlyphs" stroke="#262626" stroke-width="0.12" >610</text>
<line x1="179.35" y1="354.10" x2="179.35" y2="358.30" stroke="#222222" stroke-width="1.1" />
<text x="172.62" y="368.70" font-size="8.3" fill="#262626" font-weight="normal" font-style="normal" textLength="13.39" lengthAdjust="spacingAndGlyphs" stroke="#262626" stroke-width="0.12" >940</text>
<path d="M56.65,354.10 V344.00 M56.65,335.50 V290.90 H64.65 V335.50 M64.65,344.00 V354.10" fill="none" stroke="#0d0d0d" stroke-width="1.8"/>
<circle cx="57.95" cy="291.20" r="1.62" fill="#0d0d0d"/>
<circle cx="63.35" cy="291.20" r="1.62" fill="#0d0d0d"/>
<circle cx="60.65" cy="288.70" r="1.62" fill="#0d0d0d"/>
<path d="M70.85,354.10 V344.00 M70.85,335.50 V295.10 H78.85 V335.50 M78.85,344.00 V354.10" fill="none" stroke="#F07E22" stroke-width="1.8"/>
<rect x="70.62" y="294.47" width="3.06" height="3.06" fill="#F07E22"/>
<rect x="76.02" y="294.77" width="3.06" height="3.06" fill="#F07E22"/>
<rect x="73.32" y="295.17" width="3.06" height="3.06" fill="#F07E22"/>
<path d="M85.05,354.10 V344.00 M85.05,335.50 V304.20 H93.05 V335.50 M93.05,344.00 V354.10" fill="none" stroke="#A4A4AA" stroke-width="1.8"/>
<path d="M86.55,303.08 L88.07,305.82 L85.03,305.82 Z" fill="#A4A4AA"/>
<path d="M91.55,303.08 L93.07,305.82 L90.03,305.82 Z" fill="#A4A4AA"/>
<path d="M89.05,302.18 L90.57,304.92 L87.53,304.92 Z" fill="#A4A4AA"/>
<path d="M108.75,354.10 V344.00 M108.75,335.50 V270.90 H116.75 V335.50 M116.75,344.00 V354.10" fill="none" stroke="#0d0d0d" stroke-width="1.8"/>
<circle cx="110.05" cy="271.20" r="1.62" fill="#0d0d0d"/>
<circle cx="115.45" cy="271.20" r="1.62" fill="#0d0d0d"/>
<circle cx="112.75" cy="268.70" r="1.62" fill="#0d0d0d"/>
<path d="M122.95,354.10 V344.00 M122.95,335.50 V273.70 H130.95 V335.50 M130.95,344.00 V354.10" fill="none" stroke="#F07E22" stroke-width="1.8"/>
<rect x="122.72" y="273.07" width="3.06" height="3.06" fill="#F07E22"/>
<rect x="128.12" y="273.37" width="3.06" height="3.06" fill="#F07E22"/>
<rect x="125.42" y="273.77" width="3.06" height="3.06" fill="#F07E22"/>
<path d="M137.15,354.10 V344.00 M137.15,335.50 V279.00 H145.15 V335.50 M145.15,344.00 V354.10" fill="none" stroke="#A4A4AA" stroke-width="1.8"/>
<path d="M138.65,277.88 L140.17,280.62 L137.13,280.62 Z" fill="#A4A4AA"/>
<path d="M143.65,277.88 L145.17,280.62 L142.13,280.62 Z" fill="#A4A4AA"/>
<path d="M141.15,276.98 L142.67,279.72 L139.63,279.72 Z" fill="#A4A4AA"/>
<path d="M161.15,354.10 V344.00 M161.15,335.50 V259.10 H169.15 V335.50 M169.15,344.00 V354.10" fill="none" stroke="#0d0d0d" stroke-width="1.8"/>
<circle cx="162.45" cy="259.40" r="1.62" fill="#0d0d0d"/>
<circle cx="167.85" cy="259.40" r="1.62" fill="#0d0d0d"/>
<circle cx="165.15" cy="256.90" r="1.62" fill="#0d0d0d"/>
<path d="M175.35,354.10 V344.00 M175.35,335.50 V260.20 H183.35 V335.50 M183.35,344.00 V354.10" fill="none" stroke="#F07E22" stroke-width="1.8"/>
<rect x="175.12" y="259.57" width="3.06" height="3.06" fill="#F07E22"/>
<rect x="180.52" y="259.87" width="3.06" height="3.06" fill="#F07E22"/>
<rect x="177.82" y="260.27" width="3.06" height="3.06" fill="#F07E22"/>
<path d="M189.55,354.10 V344.00 M189.55,335.50 V263.70 H197.55 V335.50 M197.55,344.00 V354.10" fill="none" stroke="#A4A4AA" stroke-width="1.8"/>
<path d="M191.05,262.58 L192.57,265.32 L189.53,265.32 Z" fill="#A4A4AA"/>
<path d="M196.05,262.58 L197.57,265.32 L194.53,265.32 Z" fill="#A4A4AA"/>
<path d="M193.55,261.68 L195.07,264.42 L192.03,264.42 Z" fill="#A4A4AA"/>
<text x="12.20" y="229.90" font-size="15" font-weight="bold" fill="#000">d</text>
<text x="111.12" y="224.30" font-size="11.0" fill="#262626" font-weight="normal" font-style="normal" textLength="27.50" lengthAdjust="spacingAndGlyphs" stroke="#262626" stroke-width="0.15" >H-CO</text>
<text x="138.57" y="227.80" font-size="9.2" fill="#262626" font-weight="normal" font-style="normal" textLength="4.27" lengthAdjust="spacingAndGlyphs" stroke="#262626" stroke-width="0.15" >2</text>
<text x="62.23" y="389.90" font-size="10.4" fill="#262626" font-weight="normal" font-style="normal" textLength="104.85" lengthAdjust="spacingAndGlyphs" stroke="#262626" stroke-width="0.15" >Light (µmol photons m</text>
<text x="166.92" y="384.70" font-size="7.0" fill="#262626" font-weight="normal" font-style="normal" textLength="7.28" lengthAdjust="spacingAndGlyphs" stroke="#262626" stroke-width="0.15" >-2</text>
<text x="176.95" y="389.90" font-size="10.4" fill="#262626" font-weight="normal" font-style="normal" textLength="4.36" lengthAdjust="spacingAndGlyphs" stroke="#262626" stroke-width="0.15" >s</text>
<text x="181.26" y="384.70" font-size="7.0" fill="#262626" font-weight="normal" font-style="normal" textLength="6.82" lengthAdjust="spacingAndGlyphs" stroke="#262626" stroke-width="0.15" >-1</text>
<text x="188.55" y="389.90" font-size="10.4" fill="#262626" font-weight="normal" font-style="normal" textLength="2.89" lengthAdjust="spacingAndGlyphs" stroke="#262626" stroke-width="0.15" >)</text>
<text transform="translate(27.80,0) rotate(-90)" x="-310.65" y="0.00" font-size="11.4" fill="#262626" font-weight="normal" font-style="normal" textLength="24.97" lengthAdjust="spacingAndGlyphs" stroke="#262626" stroke-width="0.15" >1-qL</text>
<path d="M60.50,282.80 V275.60 H85.90 V284.10" stroke="#1f1f1f" stroke-width="1.0" fill="none"/>
<line x1="74.20" y1="284.10" x2="91.80" y2="284.10" stroke="#444" stroke-width="1.2" />
<path d="M80.80,267.30 L80.80,271.90 M78.81,268.45 L82.79,270.75 M78.81,270.75 L82.79,268.45 " stroke="#1a1a1a" stroke-width="0.85" fill="none"/>
<circle cx="80.80" cy="269.60" r="0.75" fill="#111"/>
<path d="M86.30,267.30 L86.30,271.90 M84.31,268.45 L88.29,270.75 M84.31,270.75 L88.29,268.45 " stroke="#1a1a1a" stroke-width="0.85" fill="none"/>
<circle cx="86.30" cy="269.60" r="0.75" fill="#111"/>
<path d="M112.90,266.40 V262.20 H137.40 V267.40" stroke="#1f1f1f" stroke-width="1.0" fill="none"/>
<line x1="126.20" y1="267.40" x2="145.00" y2="267.40" stroke="#444" stroke-width="1.2" />
<path d="M130.80,254.30 L130.80,258.90 M128.81,255.45 L132.79,257.75 M128.81,257.75 L132.79,255.45 " stroke="#1a1a1a" stroke-width="0.85" fill="none"/>
<circle cx="130.80" cy="256.60" r="0.75" fill="#111"/>
<path d="M136.30,254.30 L136.30,258.90 M134.31,255.45 L138.29,257.75 M134.31,257.75 L138.29,255.45 " stroke="#1a1a1a" stroke-width="0.85" fill="none"/>
<circle cx="136.30" cy="256.60" r="0.75" fill="#111"/>
<path d="M165.20,251.80 V250.35 H184.90 V255.60" stroke="#1f1f1f" stroke-width="1.0" fill="none"/>
<line x1="177.20" y1="255.70" x2="195.60" y2="255.70" stroke="#444" stroke-width="1.2" />
<path d="M178.50,243.30 L178.50,247.90 M176.51,244.45 L180.49,246.75 M176.51,246.75 L180.49,244.45 " stroke="#1a1a1a" stroke-width="0.85" fill="none"/>
<circle cx="178.50" cy="245.60" r="0.75" fill="#111"/>
<line x1="264.40" y1="242.50" x2="264.40" y2="335.50" stroke="#222222" stroke-width="1.35" />
<line x1="264.40" y1="343.70" x2="264.40" y2="353.80" stroke="#222222" stroke-width="1.35" />
<line x1="260.00" y1="243.00" x2="264.40" y2="243.00" stroke="#222222" stroke-width="1.0" />
<text x="247.77" y="246.45" font-size="8.6" fill="#262626" font-weight="normal" font-style="normal" textLength="11.56" lengthAdjust="spacingAndGlyphs" stroke="#262626" stroke-width="0.12" >1.0</text>
<line x1="260.00" y1="266.30" x2="264.40" y2="266.30" stroke="#222222" stroke-width="1.0" />
<text x="248.08" y="269.75" font-size="8.6" fill="#262626" font-weight="normal" font-style="normal" textLength="11.30" lengthAdjust="spacingAndGlyphs" stroke="#262626" stroke-width="0.12" >0.9</text>
<line x1="260.00" y1="289.60" x2="264.40" y2="289.60" stroke="#222222" stroke-width="1.0" />
<text x="248.08" y="293.05" font-size="8.6" fill="#262626" font-weight="normal" font-style="normal" textLength="11.27" lengthAdjust="spacingAndGlyphs" stroke="#262626" stroke-width="0.12" >0.8</text>
<line x1="260.00" y1="312.90" x2="264.40" y2="312.90" stroke="#222222" stroke-width="1.0" />
<text x="248.08" y="316.35" font-size="8.6" fill="#262626" font-weight="normal" font-style="normal" textLength="11.33" lengthAdjust="spacingAndGlyphs" stroke="#262626" stroke-width="0.12" >0.7</text>
<text x="248.08" y="339.35" font-size="8.6" fill="#262626" font-weight="normal" font-style="normal" textLength="11.27" lengthAdjust="spacingAndGlyphs" stroke="#262626" stroke-width="0.12" >0.6</text>
<line x1="261.70" y1="335.50" x2="267.10" y2="335.50" stroke="#222222" stroke-width="1.1" />
<line x1="261.70" y1="343.70" x2="267.10" y2="343.70" stroke="#222222" stroke-width="1.1" />
<text x="248.08" y="347.15" font-size="8.6" fill="#262626" font-weight="normal" font-style="normal" textLength="11.26" lengthAdjust="spacingAndGlyphs" stroke="#262626" stroke-width="0.12" >0.5</text>
<text x="248.08" y="357.25" font-size="8.6" fill="#262626" font-weight="normal" font-style="normal" textLength="11.23" lengthAdjust="spacingAndGlyphs" stroke="#262626" stroke-width="0.12" >0.0</text>
<line x1="260.80" y1="353.80" x2="416.60" y2="353.80" stroke="#222222" stroke-width="1.35" />
<line x1="288.20" y1="353.80" x2="288.20" y2="358.00" stroke="#222222" stroke-width="1.1" />
<text x="281.55" y="368.40" font-size="8.3" fill="#262626" font-weight="normal" font-style="normal" textLength="13.32" lengthAdjust="spacingAndGlyphs" stroke="#262626" stroke-width="0.12" >390</text>
<line x1="340.25" y1="353.80" x2="340.25" y2="358.00" stroke="#222222" stroke-width="1.1" />
<text x="333.49" y="368.40" font-size="8.3" fill="#262626" font-weight="normal" font-style="normal" textLength="13.43" lengthAdjust="spacingAndGlyphs" stroke="#262626" stroke-width="0.12" >610</text>
<line x1="392.60" y1="353.80" x2="392.60" y2="358.00" stroke="#222222" stroke-width="1.1" />
<text x="385.87" y="368.40" font-size="8.3" fill="#262626" font-weight="normal" font-style="normal" textLength="13.39" lengthAdjust="spacingAndGlyphs" stroke="#262626" stroke-width="0.12" >940</text>
<path d="M269.90,353.80 V343.70 M269.90,335.50 V302.30 H277.90 V335.50 M277.90,343.70 V353.80" fill="none" stroke="#0d0d0d" stroke-width="1.8"/>
<path d="M273.90,298.80 V308.00 M272.00,298.80 H275.80 M272.00,308.00 H275.80" stroke="#0d0d0d" stroke-width="0.8" fill="none"/>
<circle cx="270.10" cy="299.90" r="1.62" fill="#0d0d0d"/>
<circle cx="277.80" cy="299.90" r="1.62" fill="#0d0d0d"/>
<circle cx="273.90" cy="307.00" r="1.62" fill="#0d0d0d"/>
<path d="M284.20,353.80 V343.70 M284.20,335.50 V281.70 H292.20 V335.50 M292.20,343.70 V353.80" fill="none" stroke="#F07E22" stroke-width="1.8"/>
<rect x="283.47" y="279.77" width="3.06" height="3.06" fill="#F07E22"/>
<rect x="289.77" y="281.17" width="3.06" height="3.06" fill="#F07E22"/>
<rect x="285.67" y="283.97" width="3.06" height="3.06" fill="#F07E22"/>
<path d="M298.50,353.80 V343.70 M298.50,335.50 V316.80 H306.50 V335.50 M306.50,343.70 V353.80" fill="none" stroke="#A4A4AA" stroke-width="1.8"/>
<path d="M302.50,308.40 V322.60 M300.60,308.40 H304.40 M300.60,322.60 H304.40" stroke="#A4A4AA" stroke-width="0.8" fill="none"/>
<path d="M302.50,306.69 L304.21,309.77 L300.79,309.77 Z" fill="#A4A4AA"/>
<path d="M301.00,318.29 L302.71,321.37 L299.29,321.37 Z" fill="#A4A4AA"/>
<path d="M304.00,320.29 L305.71,323.37 L302.29,323.37 Z" fill="#A4A4AA"/>
<path d="M321.95,353.80 V343.70 M321.95,335.50 V286.50 H329.95 V335.50 M329.95,343.70 V353.80" fill="none" stroke="#0d0d0d" stroke-width="1.8"/>
<path d="M325.95,280.50 V292.00 M324.05,280.50 H327.85 M324.05,292.00 H327.85" stroke="#0d0d0d" stroke-width="0.8" fill="none"/>
<circle cx="322.35" cy="282.30" r="1.62" fill="#0d0d0d"/>
<circle cx="329.85" cy="283.00" r="1.62" fill="#0d0d0d"/>
<circle cx="325.95" cy="292.10" r="1.62" fill="#0d0d0d"/>
<path d="M336.25,353.80 V343.70 M336.25,335.50 V265.50 H344.25 V335.50 M344.25,343.70 V353.80" fill="none" stroke="#F07E22" stroke-width="1.8"/>
<rect x="335.72" y="264.07" width="3.06" height="3.06" fill="#F07E22"/>
<rect x="341.72" y="264.07" width="3.06" height="3.06" fill="#F07E22"/>
<rect x="338.72" y="265.27" width="3.06" height="3.06" fill="#F07E22"/>
<path d="M350.55,353.80 V343.70 M350.55,335.50 V294.20 H358.55 V335.50 M358.55,343.70 V353.80" fill="none" stroke="#A4A4AA" stroke-width="1.8"/>
<path d="M354.55,288.60 V297.00 M352.65,288.60 H356.45 M352.65,297.00 H356.45" stroke="#A4A4AA" stroke-width="0.8" fill="none"/>
<path d="M354.55,287.59 L356.26,290.67 L352.84,290.67 Z" fill="#A4A4AA"/>
<path d="M353.05,293.79 L354.76,296.87 L351.34,296.87 Z" fill="#A4A4AA"/>
<path d="M356.05,294.79 L357.76,297.87 L354.34,297.87 Z" fill="#A4A4AA"/>
<path d="M374.30,353.80 V343.70 M374.30,335.50 V277.00 H382.30 V335.50 M382.30,343.70 V353.80" fill="none" stroke="#0d0d0d" stroke-width="1.8"/>
<path d="M378.30,271.60 V280.50 M376.40,271.60 H380.20 M376.40,280.50 H380.20" stroke="#0d0d0d" stroke-width="0.8" fill="none"/>
<circle cx="374.90" cy="272.70" r="1.62" fill="#0d0d0d"/>
<circle cx="381.80" cy="275.70" r="1.62" fill="#0d0d0d"/>
<circle cx="378.30" cy="279.30" r="1.62" fill="#0d0d0d"/>
<path d="M388.60,353.80 V343.70 M388.60,335.50 V257.00 H396.60 V335.50 M396.60,343.70 V353.80" fill="none" stroke="#F07E22" stroke-width="1.8"/>
<rect x="388.07" y="255.47" width="3.06" height="3.06" fill="#F07E22"/>
<rect x="394.07" y="255.47" width="3.06" height="3.06" fill="#F07E22"/>
<rect x="391.07" y="256.77" width="3.06" height="3.06" fill="#F07E22"/>
<path d="M402.90,353.80 V343.70 M402.90,335.50 V282.30 H410.90 V335.50 M410.90,343.70 V353.80" fill="none" stroke="#A4A4AA" stroke-width="1.8"/>
<path d="M406.90,280.00 V285.00 M405.00,280.00 H408.80 M405.00,285.00 H408.80" stroke="#A4A4AA" stroke-width="0.8" fill="none"/>
<path d="M404.90,280.09 L406.61,283.17 L403.19,283.17 Z" fill="#A4A4AA"/>
<path d="M408.90,280.79 L410.61,283.87 L407.19,283.87 Z" fill="#A4A4AA"/>
<path d="M406.90,282.29 L408.61,285.37 L405.19,285.37 Z" fill="#A4A4AA"/>
<text x="226.30" y="230.00" font-size="15" font-weight="bold" fill="#000">e</text>
<text x="275.32" y="224.00" font-size="11.0" fill="#262626" font-weight="normal" font-style="normal" textLength="27.50" lengthAdjust="spacingAndGlyphs" stroke="#262626" stroke-width="0.15" >H-CO</text>
<text x="302.78" y="227.50" font-size="9.2" fill="#262626" font-weight="normal" font-style="normal" textLength="4.63" lengthAdjust="spacingAndGlyphs" stroke="#262626" stroke-width="0.15" >2</text>
<text x="326.15" y="224.00" font-size="11.0" fill="#262626" font-weight="normal" font-style="normal" textLength="32.36" lengthAdjust="spacingAndGlyphs" stroke="#262626" stroke-width="0.15" >VL-CO</text>
<text x="358.31" y="227.50" font-size="9.2" fill="#262626" font-weight="normal" font-style="normal" textLength="4.39" lengthAdjust="spacingAndGlyphs" stroke="#262626" stroke-width="0.15" >2</text>
<text x="366.35" y="224.00" font-size="11.0" fill="#262626" font-weight="normal" font-style="normal" textLength="22.15" lengthAdjust="spacingAndGlyphs" stroke="#262626" stroke-width="0.15" >21%</text>
<text x="391.57" y="224.00" font-size="11.0" fill="#262626" font-weight="normal" font-style="normal" textLength="8.77" lengthAdjust="spacingAndGlyphs" stroke="#262626" stroke-width="0.15" >O</text>
<text x="400.06" y="227.50" font-size="9.2" fill="#262626" font-weight="normal" font-style="normal" textLength="4.88" lengthAdjust="spacingAndGlyphs" stroke="#262626" stroke-width="0.15" >2</text>
<path d="M311.10,221.10 H320.30" stroke="#111" stroke-width="1.1"/>
<path d="M323.30,221.10 L319.10,218.70 L319.10,223.50 Z" fill="#111"/>
<text x="275.93" y="389.10" font-size="10.4" fill="#262626" font-weight="normal" font-style="normal" textLength="104.68" lengthAdjust="spacingAndGlyphs" stroke="#262626" stroke-width="0.15" >Light (µmol photons m</text>
<text x="380.46" y="383.90" font-size="7.0" fill="#262626" font-weight="normal" font-style="normal" textLength="7.26" lengthAdjust="spacingAndGlyphs" stroke="#262626" stroke-width="0.15" >-2</text>
<text x="390.47" y="389.10" font-size="10.4" fill="#262626" font-weight="normal" font-style="normal" textLength="4.35" lengthAdjust="spacingAndGlyphs" stroke="#262626" stroke-width="0.15" >s</text>
<text x="394.77" y="383.90" font-size="7.0" fill="#262626" font-weight="normal" font-style="normal" textLength="6.81" lengthAdjust="spacingAndGlyphs" stroke="#262626" stroke-width="0.15" >-1</text>
<text x="402.05" y="389.10" font-size="10.4" fill="#262626" font-weight="normal" font-style="normal" textLength="2.89" lengthAdjust="spacingAndGlyphs" stroke="#262626" stroke-width="0.15" >)</text>
<text transform="translate(241.30,0) rotate(-90)" x="-309.93" y="0.00" font-size="11.4" fill="#262626" font-weight="normal" font-style="normal" textLength="24.44" lengthAdjust="spacingAndGlyphs" stroke="#262626" stroke-width="0.15" >1-qL</text>
<path d="M273.30,292.50 V272.50 H288.70 V277.40" stroke="#1f1f1f" stroke-width="1.0" fill="none"/>
<path d="M287.10,264.10 L287.10,268.70 M285.11,265.25 L289.09,267.55 M285.11,267.55 L289.09,265.25 " stroke="#1a1a1a" stroke-width="0.85" fill="none"/>
<circle cx="287.10" cy="266.40" r="0.75" fill="#111"/>
<path d="M325.30,276.50 V256.60 H340.50 V261.40" stroke="#1f1f1f" stroke-width="1.0" fill="none"/>
<path d="M337.80,248.40 L337.80,253.00 M335.81,249.55 L339.79,251.85 M335.81,251.85 L339.79,249.55 " stroke="#1a1a1a" stroke-width="0.85" fill="none"/>
<circle cx="337.80" cy="250.70" r="0.75" fill="#111"/>
<path d="M377.80,265.60 V246.40 H393.10 V252.60" stroke="#1f1f1f" stroke-width="1.0" fill="none"/>
<path d="M389.40,238.40 L389.40,243.00 M387.41,239.55 L391.39,241.85 M387.41,241.85 L391.39,239.55 " stroke="#1a1a1a" stroke-width="0.85" fill="none"/>
<circle cx="389.40" cy="240.70" r="0.75" fill="#111"/>
<line x1="477.60" y1="242.00" x2="477.60" y2="335.20" stroke="#5a5a5a" stroke-width="1.5" />
<line x1="477.60" y1="343.30" x2="477.60" y2="353.30" stroke="#5a5a5a" stroke-width="1.5" />
<line x1="473.20" y1="242.50" x2="477.60" y2="242.50" stroke="#222222" stroke-width="1.0" />
<text x="460.97" y="245.95" font-size="8.6" fill="#262626" font-weight="normal" font-style="normal" textLength="11.56" lengthAdjust="spacingAndGlyphs" stroke="#262626" stroke-width="0.12" >1.0</text>
<line x1="473.20" y1="265.85" x2="477.60" y2="265.85" stroke="#222222" stroke-width="1.0" />
<text x="461.28" y="269.30" font-size="8.6" fill="#262626" font-weight="normal" font-style="normal" textLength="11.30" lengthAdjust="spacingAndGlyphs" stroke="#262626" stroke-width="0.12" >0.9</text>
<line x1="473.20" y1="289.20" x2="477.60" y2="289.20" stroke="#222222" stroke-width="1.0" />
<text x="461.28" y="292.65" font-size="8.6" fill="#262626" font-weight="normal" font-style="normal" textLength="11.27" lengthAdjust="spacingAndGlyphs" stroke="#262626" stroke-width="0.12" >0.8</text>
<line x1="473.20" y1="312.55" x2="477.60" y2="312.55" stroke="#222222" stroke-width="1.0" />
<text x="461.28" y="316.00" font-size="8.6" fill="#262626" font-weight="normal" font-style="normal" textLength="11.33" lengthAdjust="spacingAndGlyphs" stroke="#262626" stroke-width="0.12" >0.7</text>
<text x="461.28" y="339.05" font-size="8.6" fill="#262626" font-weight="normal" font-style="normal" textLength="11.27" lengthAdjust="spacingAndGlyphs" stroke="#262626" stroke-width="0.12" >0.6</text>
<line x1="474.90" y1="335.20" x2="480.30" y2="335.20" stroke="#222222" stroke-width="1.1" />
<line x1="474.90" y1="343.30" x2="480.30" y2="343.30" stroke="#222222" stroke-width="1.1" />
<text x="461.28" y="346.75" font-size="8.6" fill="#262626" font-weight="normal" font-style="normal" textLength="11.26" lengthAdjust="spacingAndGlyphs" stroke="#262626" stroke-width="0.12" >0.5</text>
<text x="461.28" y="356.75" font-size="8.6" fill="#262626" font-weight="normal" font-style="normal" textLength="11.23" lengthAdjust="spacingAndGlyphs" stroke="#262626" stroke-width="0.12" >0.0</text>
<line x1="474.00" y1="353.30" x2="630.20" y2="353.30" stroke="#222222" stroke-width="1.35" />
<line x1="501.80" y1="353.30" x2="501.80" y2="357.50" stroke="#222222" stroke-width="1.1" />
<text x="495.15" y="367.90" font-size="8.3" fill="#262626" font-weight="normal" font-style="normal" textLength="13.32" lengthAdjust="spacingAndGlyphs" stroke="#262626" stroke-width="0.12" >390</text>
<line x1="553.95" y1="353.30" x2="553.95" y2="357.50" stroke="#222222" stroke-width="1.1" />
<text x="547.19" y="367.90" font-size="8.3" fill="#262626" font-weight="normal" font-style="normal" textLength="13.43" lengthAdjust="spacingAndGlyphs" stroke="#262626" stroke-width="0.12" >610</text>
<line x1="606.75" y1="353.30" x2="606.75" y2="357.50" stroke="#222222" stroke-width="1.1" />
<text x="600.02" y="367.90" font-size="8.3" fill="#262626" font-weight="normal" font-style="normal" textLength="13.39" lengthAdjust="spacingAndGlyphs" stroke="#262626" stroke-width="0.12" >940</text>
<path d="M483.45,353.30 V343.30 M483.45,335.20 V300.20 H491.45 V335.20 M491.45,343.30 V353.30" fill="none" stroke="#0d0d0d" stroke-width="1.8"/>
<path d="M487.45,290.20 V310.50 M485.55,290.20 H489.35 M485.55,310.50 H489.35" stroke="#0d0d0d" stroke-width="0.8" fill="none"/>
<circle cx="484.15" cy="293.70" r="1.62" fill="#0d0d0d"/>
<circle cx="490.85" cy="294.90" r="1.62" fill="#0d0d0d"/>
<circle cx="487.45" cy="310.50" r="1.62" fill="#0d0d0d"/>
<path d="M497.80,353.30 V343.30 M497.80,335.20 V294.40 H505.80 V335.20 M505.80,343.30 V353.30" fill="none" stroke="#F07E22" stroke-width="1.8"/>
<rect x="496.87" y="289.07" width="3.06" height="3.06" fill="#F07E22"/>
<rect x="503.77" y="291.37" width="3.06" height="3.06" fill="#F07E22"/>
<rect x="500.27" y="296.47" width="3.06" height="3.06" fill="#F07E22"/>
<path d="M512.15,353.30 V343.30 M512.15,335.20 V306.60 H520.15 V335.20 M520.15,343.30 V353.30" fill="none" stroke="#A4A4AA" stroke-width="1.8"/>
<path d="M516.15,302.40 V308.00 M514.25,302.40 H518.05 M514.25,308.00 H518.05" stroke="#A4A4AA" stroke-width="0.8" fill="none"/>
<path d="M516.15,300.69 L517.86,303.77 L514.44,303.77 Z" fill="#A4A4AA"/>
<path d="M514.15,305.09 L515.86,308.17 L512.44,308.17 Z" fill="#A4A4AA"/>
<path d="M518.15,305.09 L519.86,308.17 L516.44,308.17 Z" fill="#A4A4AA"/>
<path d="M535.60,353.30 V343.30 M535.60,335.20 V282.40 H543.60 V335.20 M543.60,343.30 V353.30" fill="none" stroke="#0d0d0d" stroke-width="1.8"/>
<path d="M539.60,272.10 V292.00 M537.70,272.10 H541.50 M537.70,292.00 H541.50" stroke="#0d0d0d" stroke-width="0.8" fill="none"/>
<circle cx="536.20" cy="276.30" r="1.62" fill="#0d0d0d"/>
<circle cx="543.00" cy="277.20" r="1.62" fill="#0d0d0d"/>
<circle cx="539.60" cy="292.00" r="1.62" fill="#0d0d0d"/>
<path d="M549.95,353.30 V343.30 M549.95,335.20 V272.90 H557.95 V335.20 M557.95,343.30 V353.30" fill="none" stroke="#F07E22" stroke-width="1.8"/>
<rect x="549.22" y="271.47" width="3.06" height="3.06" fill="#F07E22"/>
<rect x="555.62" y="271.47" width="3.06" height="3.06" fill="#F07E22"/>
<rect x="552.42" y="273.97" width="3.06" height="3.06" fill="#F07E22"/>
<path d="M564.30,353.30 V343.30 M564.30,335.20 V285.90 H572.30 V335.20 M572.30,343.30 V353.30" fill="none" stroke="#A4A4AA" stroke-width="1.8"/>
<path d="M568.30,282.40 V288.00 M566.40,282.40 H570.20 M566.40,288.00 H570.20" stroke="#A4A4AA" stroke-width="0.8" fill="none"/>
<path d="M568.30,280.69 L570.01,283.77 L566.59,283.77 Z" fill="#A4A4AA"/>
<path d="M566.30,284.29 L568.01,287.37 L564.59,287.37 Z" fill="#A4A4AA"/>
<path d="M570.30,284.29 L572.01,287.37 L568.59,287.37 Z" fill="#A4A4AA"/>
<path d="M588.40,353.30 V343.30 M588.40,335.20 V271.30 H596.40 V335.20 M596.40,343.30 V353.30" fill="none" stroke="#0d0d0d" stroke-width="1.8"/>
<path d="M592.40,265.00 V279.00 M590.50,265.00 H594.30 M590.50,279.00 H594.30" stroke="#0d0d0d" stroke-width="0.8" fill="none"/>
<circle cx="588.80" cy="266.50" r="1.62" fill="#0d0d0d"/>
<circle cx="595.70" cy="268.00" r="1.62" fill="#0d0d0d"/>
<circle cx="592.40" cy="279.00" r="1.62" fill="#0d0d0d"/>
<path d="M602.75,353.30 V343.30 M602.75,335.20 V264.10 H610.75 V335.20 M610.75,343.30 V353.30" fill="none" stroke="#F07E22" stroke-width="1.8"/>
<rect x="601.82" y="264.07" width="3.06" height="3.06" fill="#F07E22"/>
<rect x="608.62" y="261.47" width="3.06" height="3.06" fill="#F07E22"/>
<rect x="605.22" y="262.97" width="3.06" height="3.06" fill="#F07E22"/>
<path d="M617.10,353.30 V343.30 M617.10,335.20 V273.20 H625.10 V335.20 M625.10,343.30 V353.30" fill="none" stroke="#A4A4AA" stroke-width="1.8"/>
<path d="M619.10,271.49 L620.81,274.57 L617.39,274.57 Z" fill="#A4A4AA"/>
<path d="M623.10,271.89 L624.81,274.97 L621.39,274.97 Z" fill="#A4A4AA"/>
<path d="M621.10,270.29 L622.81,273.37 L619.39,273.37 Z" fill="#A4A4AA"/>
<text x="449.50" y="222.50" font-size="15" font-weight="bold" fill="#000">f</text>
<text x="492.22" y="223.40" font-size="11.0" fill="#262626" font-weight="normal" font-style="normal" textLength="27.40" lengthAdjust="spacingAndGlyphs" stroke="#262626" stroke-width="0.15" >H-CO</text>
<text x="519.46" y="226.90" font-size="9.2" fill="#262626" font-weight="normal" font-style="normal" textLength="4.88" lengthAdjust="spacingAndGlyphs" stroke="#262626" stroke-width="0.15" >2</text>
<text x="543.45" y="223.40" font-size="11.0" fill="#262626" font-weight="normal" font-style="normal" textLength="32.26" lengthAdjust="spacingAndGlyphs" stroke="#262626" stroke-width="0.15" >VL-CO</text>
<text x="575.56" y="226.90" font-size="9.2" fill="#262626" font-weight="normal" font-style="normal" textLength="4.88" lengthAdjust="spacingAndGlyphs" stroke="#262626" stroke-width="0.15" >2</text>
<text x="583.64" y="223.40" font-size="11.0" fill="#262626" font-weight="normal" font-style="normal" textLength="16.05" lengthAdjust="spacingAndGlyphs" stroke="#262626" stroke-width="0.15" >2%</text>
<text x="602.27" y="223.40" font-size="11.0" fill="#262626" font-weight="normal" font-style="normal" textLength="8.77" lengthAdjust="spacingAndGlyphs" stroke="#262626" stroke-width="0.15" >O</text>
<text x="610.98" y="226.90" font-size="9.2" fill="#262626" font-weight="normal" font-style="normal" textLength="4.63" lengthAdjust="spacingAndGlyphs" stroke="#262626" stroke-width="0.15" >2</text>
<path d="M529.40,221.30 H536.05" stroke="#111" stroke-width="1.1"/>
<path d="M539.05,221.30 L534.85,218.90 L534.85,223.70 Z" fill="#111"/>
<text x="489.13" y="388.70" font-size="10.4" fill="#262626" font-weight="normal" font-style="normal" textLength="105.42" lengthAdjust="spacingAndGlyphs" stroke="#262626" stroke-width="0.15" >Light (µmol photons m</text>
<text x="594.39" y="383.50" font-size="7.0" fill="#262626" font-weight="normal" font-style="normal" textLength="7.32" lengthAdjust="spacingAndGlyphs" stroke="#262626" stroke-width="0.15" >-2</text>
<text x="604.47" y="388.70" font-size="10.4" fill="#262626" font-weight="normal" font-style="normal" textLength="4.39" lengthAdjust="spacingAndGlyphs" stroke="#262626" stroke-width="0.15" >s</text>
<text x="608.80" y="383.50" font-size="7.0" fill="#262626" font-weight="normal" font-style="normal" textLength="6.86" lengthAdjust="spacingAndGlyphs" stroke="#262626" stroke-width="0.15" >-1</text>
<text x="616.13" y="388.70" font-size="10.4" fill="#262626" font-weight="normal" font-style="normal" textLength="2.91" lengthAdjust="spacingAndGlyphs" stroke="#262626" stroke-width="0.15" >)</text>
<text transform="translate(454.00,0) rotate(-90)" x="-309.95" y="0.00" font-size="11.4" fill="#262626" font-weight="normal" font-style="normal" textLength="25.07" lengthAdjust="spacingAndGlyphs" stroke="#262626" stroke-width="0.15" >1-qL</text>
<circle cx="638.60" cy="253.00" r="1.71" fill="#0d0d0d"/>
<rect x="636.82" y="266.11" width="3.57" height="3.57" fill="#F07E22"/>
<path d="M638.60,280.28 L640.22,283.19 L636.99,283.19 Z" fill="#A4A4AA"/>
<text x="649.73" y="256.60" font-size="10.0" fill="#262626" font-weight="normal" font-style="normal" textLength="33.98" lengthAdjust="spacingAndGlyphs" stroke="#262626" stroke-width="0.2" >CC4533</text>
<text x="650.04" y="271.50" font-size="10.0" fill="#262626" font-weight="normal" font-style="italic" textLength="20.74" lengthAdjust="spacingAndGlyphs" stroke="#262626" stroke-width="0.2" >lci20</text>
<text x="649.75" y="286.10" font-size="10.0" fill="#262626" font-weight="normal" font-style="normal" textLength="11.29" lengthAdjust="spacingAndGlyphs" stroke="#262626" stroke-width="0.2" >C1</text>
</svg>
</body></html>
